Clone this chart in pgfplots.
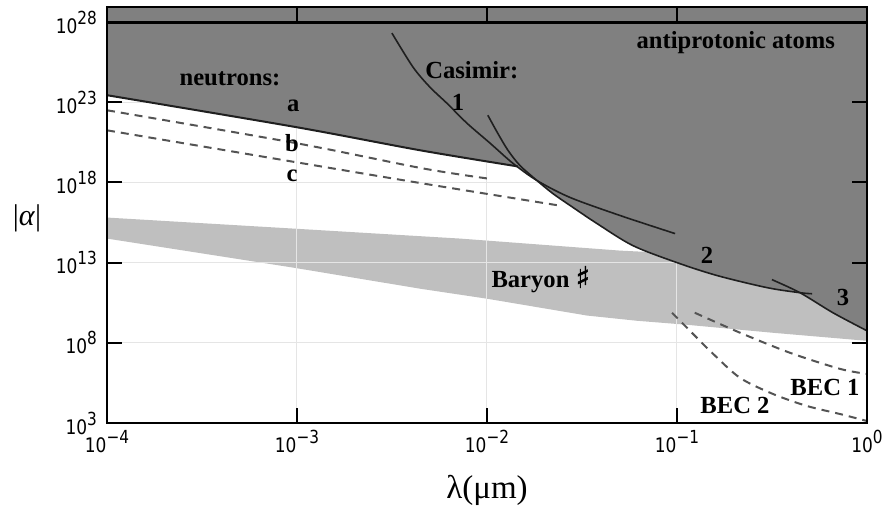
\documentclass[border=0pt]{standalone}
\usepackage{fontspec}
\setmainfont{Liberation Serif}
\newfontfamily\tickfont[FakeStretch=0.85]{DejaVu Sans}
\newfontfamily\symfont[FakeBold=1.5]{DejaVu Sans}
\usepackage{pgfplots}
\pgfplotsset{compat=1.18}
\definecolor{darkfill}{gray}{0.5}
\definecolor{bandfill}{gray}{0.75}
\definecolor{gridc}{gray}{0.9}
\definecolor{curvec}{gray}{0.12}
\definecolor{dashc}{gray}{0.33}
\newcommand\tl[1]{10\raisebox{0.45em}{\fontsize{9}{9}\selectfont #1}}
\newcommand\lbl{\fontsize{12.3}{14}\selectfont\bfseries}
\begin{document}
\begin{tikzpicture}
\begin{axis}[name=ax, scale only axis, width=380pt, height=208pt,
  xmode=log, ymode=log, xmin=1e-4, xmax=1, ymin=1e3, ymax=8.7e28,
  xtick={1e-4,1e-3,1e-2,1e-1,1},
  xticklabels={\tl{−4},\tl{−3},\tl{−2},\tl{−1},\tl{0}},
  ytick={1e3,1e8,1e13,1e18,1e23,1e28},
  yticklabels={\tl{3},\tl{8},\tl{13},\tl{18},\tl{23},\tl{28}},
  xminorticks=false, yminorticks=false,
  tick align=inside, major tick length=7.5pt,
  tick style={black, line width=1pt},
  axis line style={line width=1.2pt},
  tick label style={font=\tickfont\fontsize{10}{11}\selectfont},
  yticklabel style={xshift=-1.5pt},
  axis on top, no markers,
  xlabel={λ(μm)}, ylabel={|\textit{α}|},
  every axis x label/.style={at={(axis description cs:0.5,0)}, yshift=-33.5pt, anchor=center, font=\fontsize{16.5}{18}\selectfont},
  every axis y label/.style={at={(axis description cs:0,0.5)}, xshift=-40pt, yshift=-1.5pt, anchor=center, font=\fontsize{15}{17}\selectfont},
]
% Baryon number band
\addplot[fill=bandfill, draw=none] coordinates {
 (1e-4,6.46e15) (9.53e-4,1.33e15) (7.21e-3,3.16e14) (5.01e-2,5.62e13) (1.32e-1,3.16e13) (1,1e13)
 (1,1.33e8) (3.20e-1,4.22e8) (1.13e-1,1.33e9) (6.15e-2,2.37e9) (3.36e-2,5.01e9) (1e-2,5.62e10) (4.44e-3,2.37e11) (9.53e-4,4.90e12) (1e-4,3.16e14)
} -- cycle;
% grid
\draw[gridc, line width=0.5pt] (axis cs:1e-3,1e3) -- (axis cs:1e-3,1e29);
\draw[gridc, line width=0.5pt] (axis cs:1e-2,1e3) -- (axis cs:1e-2,1e29);
\draw[gridc, line width=0.5pt] (axis cs:1e-1,1e3) -- (axis cs:1e-1,1e29);
\draw[gridc, line width=0.5pt] (axis cs:1e-4,1e8) -- (axis cs:1,1e8);
\draw[gridc, line width=0.5pt] (axis cs:1e-4,1e13) -- (axis cs:1,1e13);
\draw[gridc, line width=0.5pt] (axis cs:1e-4,1e18) -- (axis cs:1,1e18);
\draw[gridc, line width=0.5pt] (axis cs:1e-4,1e23) -- (axis cs:1,1e23);
% excluded region
\addplot[fill=darkfill, draw=none] coordinates {
 (1e-4,1e29) (1e-4,2.75e23) (1e-3,2.75e21) (4.47e-3,1e20) (1.45e-2,1e19) (1.83e-2,1.33e18)
 (2.22e-2,2.04e17) (2.74e-2,3.63e16) (3.79e-2,2.75e15) (5.86e-2,1.15e14) (1e-1,1e13)
 (1.63e-1,1.55e12) (2.98e-1,2.75e11) (4.44e-1,1.33e11) (6.62e-1,7.50e9) (1,5.62e8) (1,1e29)
} -- cycle;
\draw[black, line width=1.5pt] (axis cs:1e-4,1e28) -- (axis cs:1,1e28);
% neutrons a
\addplot[curvec, line width=1pt, smooth] coordinates {(1e-4,2.75e23) (1e-3,2.75e21) (4.47e-3,1e20) (1.45e-2,1e19)};
% neutrons b, c
\addplot[dashc, line width=1pt, dash pattern=on 4pt off 3pt, smooth] coordinates {(1e-4,3.16e22) (1e-3,2.75e20) (4.57e-3,7.59e18) (1e-2,1.78e18)};
\addplot[dashc, line width=1pt, dash pattern=on 4pt off 3pt, smooth] coordinates {(1e-4,1.78e21) (1e-3,1.78e19) (4.57e-3,8.71e17) (2.40e-2,3.63e16)};
% Casimir 1
\addplot[curvec, line width=0.8pt, smooth] coordinates {(3.16e-3,2.04e27) (4.08e-3,1.55e25) (5.01e-3,8.71e23) (6.15e-3,8.71e22) (7.85e-3,4.90e21) (1.04e-2,2.75e20) (1.37e-2,1.55e19) (1.83e-2,1.33e18) (2.74e-2,1.15e17) (5.01e-2,8.71e15) (9.77e-2,6.46e14)};
% Casimir 2
\addplot[curvec, line width=0.8pt, smooth] coordinates {(1.01e-2,1.55e22) (1.14e-2,1.15e21) (1.29e-2,1e20) (1.49e-2,1.15e19) (1.83e-2,1.33e18) (2.22e-2,2.04e17) (2.74e-2,3.63e16) (3.79e-2,2.75e15) (5.86e-2,1.15e14) (1e-1,1e13) (1.63e-1,1.55e12) (2.98e-1,2.75e11) (4.44e-1,1.33e11) (5.14e-1,1.15e11)};
% Casimir 3
\addplot[curvec, line width=0.8pt, smooth] coordinates {(3.16e-1,8.71e11) (4.44e-1,1.33e11) (6.62e-1,7.50e9) (1,5.62e8)};
% BEC 1, BEC 2
\addplot[dashc, line width=1pt, dash pattern=on 4pt off 3pt, smooth] coordinates {(1.24e-1,7.50e9) (2.15e-1,4.22e8) (3.94e-1,2.37e7) (7.21e-1,2.37e6) (1,1.15e6)};
\addplot[dashc, line width=1pt, dash pattern=on 4pt off 3pt, smooth] coordinates {(9.42e-2,7.5e9) (1.17e-1,5.62e8) (1.55e-1,2.04e7) (2.15e-1,6.46e5) (3.20e-1,6.46e4) (4.83e-1,1.15e4) (7.21e-1,3.63e3) (1,1.33e3)};
% labels
\node[font=\lbl] at (axis cs:4.44e-4,2.75e24) {neutrons:};
\node[font=\lbl] at (axis cs:9.55e-4,6.31e22) {a};
\node[font=\lbl] at (axis cs:9.42e-4,2.75e20) {b};
\node[font=\lbl] at (axis cs:9.42e-4,2.75e18) {c};
\node[font=\lbl] at (axis cs:8.32e-3,1e25) {Casimir:};
\node[font=\lbl] at (axis cs:7.03e-3,1e23) {1};
\node[font=\lbl] at (axis cs:1.44e-1,2.75e13) {2};
\node[font=\lbl] at (axis cs:7.48e-1,6.46e10) {3};
\node[font=\lbl] at (axis cs:2.04e-1,5.62e26) {antiprotonic atoms};
\node[font=\lbl] at (axis cs:1.92e-2,8.71e11) {Baryon {\mdseries\symfont\fontsize{15}{15}\selectfont ♯}};
\node[font=\lbl] at (axis cs:6.01e-1,1.55e5) {BEC 1};
\node[font=\lbl] at (axis cs:2.02e-1,1.33e4) {BEC 2};
\end{axis}
\pgfresetboundingbox
\path[use as bounding box] ([shift={(-53.5pt,-42.5pt)}]ax.south west) rectangle ([shift={(7.5pt,3.5pt)}]ax.north east);
\end{tikzpicture}
\end{document}
